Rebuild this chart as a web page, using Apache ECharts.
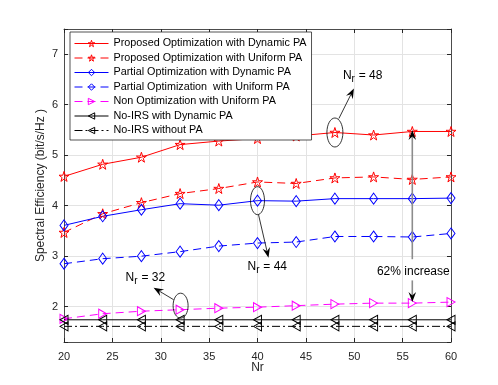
<!DOCTYPE html>
<html>
<head>
<meta charset="utf-8">
<script src="https://cdn.jsdelivr.net/npm/echarts@6/dist/echarts.min.js"></script>
<style>
html, body { margin: 0; padding: 0; background: #fff; }
#main { width: 498px; height: 385px; }
</style>
</head>
<body>
<div id="main"></div>
<script>
// 数据
var nr = [20, 24, 28, 32, 36, 40, 44, 48, 52, 56, 60];
var propDyn = [4.58, 4.82, 4.96, 5.21, 5.28, 5.33, 5.38, 5.45, 5.40, 5.47, 5.47];
var propUni = [3.47, 3.84, 4.06, 4.24, 4.34, 4.47, 4.44, 4.55, 4.57, 4.52, 4.57];
var partDyn = [3.61, 3.79, 3.92, 4.04, 4.01, 4.10, 4.09, 4.14, 4.14, 4.14, 4.15];
var partUni = [2.85, 2.95, 3.00, 3.09, 3.20, 3.26, 3.28, 3.39, 3.39, 3.38, 3.45];
var nonUni  = [1.76, 1.86, 1.91, 1.94, 1.97, 1.99, 2.02, 2.05, 2.07, 2.07, 2.09];
var noIrsDyn = [1.74, 1.74, 1.74, 1.74, 1.74, 1.74, 1.74, 1.74, 1.74, 1.74, 1.74];
var noIrsNo  = [1.61, 1.61, 1.61, 1.61, 1.61, 1.61, 1.61, 1.61, 1.61, 1.61, 1.61];

var names = [
    'Proposed Optimization with Dynamic PA',
    'Proposed Optimization with Uniform PA',
    'Partial Optimization with Dynamic PA',
    'Partial Optimization  with Uniform PA',
    'Non Optimization with Uniform PA',
    'No-IRS with Dynamic PA',
    'No-IRS without PA'
];

var STAR = 'path://M100,0L122.45,69.1L195.1,69.1L136.3,111.8L158.8,180.9L100,138.2L41.2,180.9L63.7,111.8L4.9,69.1L77.55,69.1Z';

function pairs(ys) {
    return nr.map(function(x, i) { return [x, ys[i]]; });
}

function mk(name, ys, color, dash, symbol, size, rot) {
    return {
        name: name,
        type: 'line',
        data: pairs(ys),
        symbol: symbol,
        symbolSize: size,
        symbolRotate: rot || 0,
        showAllSymbol: true,
        z: 3,
        lineStyle: { color: color, width: 1, type: dash },
        itemStyle: { color: 'rgba(255,255,255,0)', borderColor: color, borderWidth: 1 }
    };
}

var myChart = echarts.init(document.getElementById('main'));
var axisCol = '#262626';

var option = {
    animation: false,
    grid: { left: 64, right: 47, top: 29, bottom: 43 },
    legend: {
        orient: 'vertical',
        left: 70,
        top: 32,
        itemWidth: 34,
        itemHeight: 8,
        itemGap: 3.5,
        padding: [6, 5, 4, 4],
        backgroundColor: '#fff',
        borderColor: axisCol,
        borderWidth: 0.8,
        borderRadius: 0,
        z: 10,
        lineStyle: { width: 1 },
        itemStyle: { color: 'rgba(255,255,255,0)', borderWidth: 1 },
        textStyle: { fontFamily: 'Liberation Sans', fontSize: 10.8, color: '#000' },
        data: names
    },
    xAxis: [{
        type: 'value',
        min: 20,
        max: 60,
        interval: 5,
        name: 'Nr',
        nameLocation: 'middle',
        nameGap: 20,
        nameMoveOverlap: false,
        nameTextStyle: { fontFamily: 'Liberation Sans', fontSize: 12, color: axisCol },
        axisLine: { lineStyle: { color: axisCol, width: 0.8 } },
        axisTick: { inside: true, length: 4, lineStyle: { color: axisCol } },
        axisLabel: { fontFamily: 'Liberation Sans', fontSize: 11, color: axisCol, margin: 9 },
        splitLine: { show: true, lineStyle: { color: '#e3e3e3', width: 1 } }
    }, {
        type: 'value',
        position: 'top',
        min: 20,
        max: 60,
        interval: 5,
        axisLine: { lineStyle: { color: axisCol, width: 0.8 } },
        axisTick: { inside: true, length: 4, lineStyle: { color: axisCol } },
        axisLabel: { show: false },
        splitLine: { show: false }
    }],
    yAxis: [{
        type: 'value',
        min: 1.3,
        max: 7.5,
        name: 'Spectral Efficiency (bit/s/Hz )',
        nameLocation: 'middle',
        nameGap: 17,
        nameMoveOverlap: false,
        nameTextStyle: { fontFamily: 'Liberation Sans', fontSize: 12, color: axisCol },
        axisLine: { show: true, lineStyle: { color: axisCol, width: 0.8 } },
        axisTick: { show: true, inside: true, length: 4, lineStyle: { color: axisCol } },
        axisLabel: {
            fontFamily: 'Liberation Sans', fontSize: 11, color: axisCol, margin: 6,
            formatter: function(v) { return Math.abs(v - Math.round(v)) < 1e-6 ? String(Math.round(v)) : ''; }
        },
        splitLine: { show: true, lineStyle: { color: '#e3e3e3', width: 1 } }
    }, {
        type: 'value',
        position: 'right',
        min: 1.3,
        max: 7.5,
        axisLine: { show: true, lineStyle: { color: axisCol, width: 0.8 } },
        axisTick: { show: true, inside: true, length: 4, lineStyle: { color: axisCol } },
        axisLabel: { show: false },
        splitLine: { show: false }
    }],
    series: [
        mk(names[0], propDyn, '#ff0000', 'solid', STAR, 10),
        mk(names[1], propUni, '#ff0000', [8, 5], STAR, 10),
        mk(names[2], partDyn, '#0000ff', 'solid', 'diamond', [8, 11]),
        mk(names[3], partUni, '#0000ff', [8, 5], 'diamond', [8, 11]),
        mk(names[4], nonUni, '#ff00ff', [8, 5], 'triangle', [9, 8], -90),
        mk(names[5], noIrsDyn, '#000000', 'solid', 'triangle', [9, 8], 90),
        mk(names[6], noIrsNo, '#000000', [8, 3, 2, 3], 'triangle', [9, 8], 90)
    ]
};
myChart.setOption(option);

// 注释：椭圆、箭头、文字
function px(x, y) {
    return myChart.convertToPixel({ xAxisIndex: 0, yAxisIndex: 0 }, [x, y]);
}

function arrow(x1, y1, x2, y2, lineColor, lineWidth) {
    var dx = x2 - x1, dy = y2 - y1;
    var len = Math.sqrt(dx * dx + dy * dy);
    var ux = dx / len, uy = dy / len;
    var nx = -uy, ny = ux;
    var hl = 10, hw = 3.8, notch = 3.5;
    var bx = x2 - ux * hl, by = y2 - uy * hl;
    var mx = x2 - ux * (hl - notch), my = y2 - uy * (hl - notch);
    return [{
        type: 'line', z: 20, silent: true,
        shape: { x1: x1, y1: y1, x2: mx, y2: my },
        style: { stroke: lineColor, lineWidth: lineWidth }
    }, {
        type: 'polygon', z: 21, silent: true,
        shape: { points: [[x2, y2], [bx + nx * hw, by + ny * hw], [mx, my], [bx - nx * hw, by - ny * hw]] },
        style: { fill: '#000' }
    }];
}

function ellipse(c, rx, ry) {
    return {
        type: 'ellipse', z: 20, silent: true,
        shape: { cx: c[0], cy: c[1], rx: rx, ry: ry },
        style: { fill: null, stroke: '#000', lineWidth: 0.8 }
    };
}

function nrLabel(x, y, val) {
    var f = 'Liberation Sans';
    return [
        { type: 'text', z: 20, silent: true, x: x, y: y, style: { text: 'N', font: '12px ' + f, fill: '#000', verticalAlign: 'middle' } },
        { type: 'text', z: 20, silent: true, x: x + 8.7, y: y + 4, style: { text: 'r', font: '10px ' + f, fill: '#000', verticalAlign: 'middle' } },
        { type: 'text', z: 20, silent: true, x: x + 12.5, y: y, style: { text: ' = ' + val, font: '12px ' + f, fill: '#000', verticalAlign: 'middle' } }
    ];
}

function drawNotes() {
    var g = [];
    // N_r = 48
    var c1 = px(48, 5.45);
    g.push(ellipse(c1, 8, 14.5));
    g = g.concat(arrow(c1[0] + 4, c1[1] - 14, c1[0] + 19, c1[1] - 44, '#000', 0.8));
    g = g.concat(nrLabel(c1[0] + 8, c1[1] - 57, '48'));
    // N_r = 44
    var c2 = px(40, 4.10);
    g.push(ellipse(c2, 7, 14));
    g = g.concat(arrow(c2[0] + 1, c2[1] + 14, c2[0] + 11, c2[1] + 57, '#000', 0.8));
    g = g.concat(nrLabel(c2[0] - 10, c2[1] + 66, '44'));
    // N_r = 32
    var c3 = px(32, 1.94);
    var e3 = [c3[0] + 0.5, c3[1] - 4];
    g.push(ellipse(e3, 7.5, 12.5));
    g = g.concat(arrow(e3[0] - 7, e3[1] - 6, e3[0] - 27, e3[1] - 18, '#000', 0.8));
    g = g.concat(nrLabel(e3[0] - 55, e3[1] - 28, '32'));
    // 62% increase
    var top = px(56, 5.5), t1 = px(56, 2.94), t2 = px(56, 2.52), bot = px(56, 2.09), tx = px(56, 2.7);
    g = g.concat(arrow(t1[0], t1[1], top[0], top[1], '#8c8c8c', 1.6));
    g = g.concat(arrow(t2[0], t2[1], bot[0], bot[1], '#8c8c8c', 1.6));
    g.push({
        type: 'text', z: 20, silent: true, x: tx[0] + 1, y: tx[1],
        style: { text: '62% increase', font: '12px Liberation Sans', fill: '#000', align: 'center', verticalAlign: 'middle' }
    });
    myChart.setOption({ graphic: { elements: g } });
}
drawNotes();

window.addEventListener('resize', function() {
    myChart.resize();
    drawNotes();
});
</script>
</body>
</html>
